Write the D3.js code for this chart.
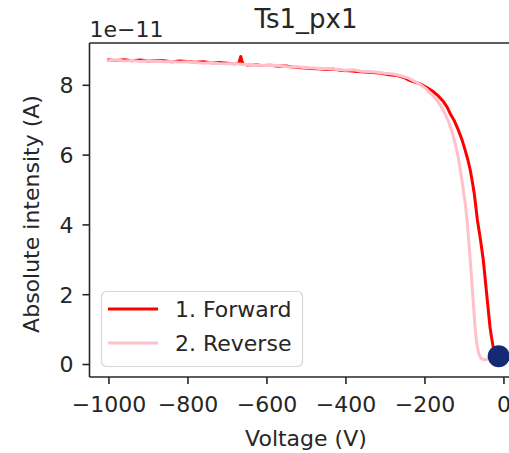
<!DOCTYPE html>
<html>
<head>
<meta charset="utf-8">
<script src="https://cdn.jsdelivr.net/npm/d3@7"></script>
<style>
  html, body { margin: 0; padding: 0; background: #fff; }
  svg { display: block; }
  text { font-family: "DejaVu Sans", sans-serif; fill: #262626; }
</style>
</head>
<body>
<svg id="chart" width="509" height="453"></svg>
<script>
// ---- data (current in units of 1e-11 A) ----
const title = "Ts1_px1";
const xLabel = "Voltage (V)";
const yLabel = "Absolute intensity (A)";
const yOffsetLabel = "1e\u221211";
const seriesNames = ["1. Forward", "2. Reverse"];
const seriesColors = ["red", "pink"];
const xTicks = [-1000, -800, -600, -400, -200, 0];
const yTicks = [0, 2, 4, 6, 8];

const forwardV = [-1000,-980,-960,-940,-920,-900,-880,-860,-840,-820,-800,-780,-760,-740,-720,-700,-680,-670,-665,-660,-650,-630,-610,-590,-570,-550,-530,-510,-490,-470,-450,-430,-410,-390,-370,-350,-330,-310,-290,-270,-250,-236,-225,-210,-195,-177,-165,-152,-143,-135,-124,-114,-105,-97,-90,-84,-79,-74,-70,-66,-58,-51,-45,-39,-34,-30,-26,-20,-14];
const forwardI = [8.71,8.70,8.72,8.69,8.71,8.68,8.70,8.69,8.66,8.68,8.67,8.65,8.66,8.63,8.64,8.62,8.60,8.62,8.81,8.60,8.57,8.58,8.55,8.56,8.53,8.54,8.50,8.49,8.47,8.46,8.44,8.45,8.41,8.40,8.38,8.37,8.35,8.33,8.29,8.27,8.20,8.12,8.08,8.02,7.93,7.80,7.68,7.52,7.37,7.18,6.96,6.70,6.43,6.13,5.85,5.56,5.24,4.89,4.52,4.13,3.55,2.98,2.30,1.62,1.06,0.75,0.49,0.30,0.22];

const reverseV = [-1000,-980,-960,-940,-920,-900,-880,-860,-840,-820,-800,-780,-760,-740,-720,-700,-680,-660,-640,-620,-600,-580,-560,-540,-520,-500,-480,-460,-440,-420,-400,-380,-360,-340,-320,-300,-280,-260,-240,-225,-210,-195,-180,-170,-160,-150,-139,-130,-122,-115,-109,-103,-97,-92,-88,-84,-80,-76,-72,-68,-63,-58,-52,-45,-38,-34];
const reverseI = [8.69,8.71,8.68,8.70,8.67,8.69,8.68,8.66,8.67,8.65,8.66,8.64,8.62,8.64,8.61,8.60,8.61,8.58,8.59,8.56,8.55,8.56,8.53,8.51,8.52,8.49,8.48,8.46,8.47,8.44,8.42,8.43,8.39,8.38,8.36,8.33,8.31,8.26,8.19,8.10,8.00,7.88,7.70,7.58,7.42,7.22,6.95,6.65,6.30,5.95,5.55,5.10,4.62,4.13,3.55,2.98,2.35,1.70,1.06,0.62,0.32,0.18,0.13,0.12,0.15,0.18];

const dotV = [-12];
const dotI = [0.22];

// ---- layout ----
const svg = d3.select("#chart");
const pLeft = 89.5, pRight = 522.4, pTop = 43, pBottom = 377;
const fs = 22;

const x = d3.scaleLinear().domain([-1048, 48]).range([pLeft, pRight]);
const y = d3.scaleLinear().domain([-0.372, 9.198]).range([pBottom, pTop]);

// lines
const line = d3.line().x(d => x(d[0])).y(d => y(d[1]));
const fwd = forwardV.map((v, i) => [v, forwardI[i]]);
const rev = reverseV.map((v, i) => [v, reverseI[i]]);

const plot = svg.append("g");
plot.append("path").datum(fwd).attr("d", line)
  .attr("fill", "none").attr("stroke", seriesColors[0]).attr("stroke-width", 3)
  .attr("stroke-linejoin", "round").attr("stroke-linecap", "square");
plot.append("path").datum(rev).attr("d", line)
  .attr("fill", "none").attr("stroke", seriesColors[1]).attr("stroke-width", 3)
  .attr("stroke-linejoin", "round").attr("stroke-linecap", "square");

plot.selectAll("circle.dot").data(dotV.map((v, i) => [v, dotI[i]])).enter()
  .append("circle").attr("class", "dot")
  .attr("cx", d => x(d[0])).attr("cy", d => y(d[1])).attr("r", 11)
  .attr("fill", "#142a72");

// axes
const xAxis = d3.axisBottom(x).tickValues(xTicks).tickSize(7).tickPadding(12)
  .tickFormat(d => d < 0 ? "\u2212" + Math.abs(d) : String(d));
const yAxis = d3.axisLeft(y).tickValues(yTicks).tickSize(7).tickPadding(9);

const gx = svg.append("g").attr("transform", `translate(0,${pBottom})`).call(xAxis);
const gy = svg.append("g").attr("transform", `translate(${pLeft},0)`).call(yAxis);
[gx, gy].forEach(g => {
  g.select(".domain").remove();
  g.selectAll(".tick line").attr("stroke", "#262626").attr("stroke-width", 1.6);
  g.selectAll(".tick text").attr("font-size", fs).attr("font-family", "DejaVu Sans").attr("fill", "#262626");
});
gx.selectAll(".tick text").attr("dy", "0.71em");
gy.selectAll(".tick text").attr("dy", "0.36em");

// spines
const spine = (x1, y1, x2, y2) => svg.append("line").attr("x1", x1).attr("y1", y1)
  .attr("x2", x2).attr("y2", y2).attr("stroke", "#262626").attr("stroke-width", 1.6);
spine(pLeft, pTop, pLeft, pBottom);
spine(pLeft, pBottom, pRight, pBottom);
spine(pLeft, pTop, pRight, pTop);
spine(pRight, pTop, pRight, pBottom);

// texts
svg.append("text").attr("x", (pLeft + pRight) / 2).attr("y", 28).attr("text-anchor", "middle")
  .attr("font-size", 26).text(title);
svg.append("text").attr("x", pLeft).attr("y", 37).attr("font-size", fs).text(yOffsetLabel);
svg.append("text").attr("x", (pLeft + pRight) / 2).attr("y", 446).attr("text-anchor", "middle")
  .attr("font-size", fs).text(xLabel);
svg.append("text").attr("transform", `translate(38.5,214) rotate(-90)`)
  .attr("text-anchor", "middle").attr("font-size", fs).text(yLabel);

// legend
const lg = svg.append("g");
lg.append("rect").attr("x", 101.5).attr("y", 291.5).attr("width", 201).attr("height", 75)
  .attr("rx", 5).attr("fill", "white").attr("fill-opacity", 0.8)
  .attr("stroke", "#d6d6d6").attr("stroke-width", 1.2);
seriesNames.forEach((name, i) => {
  const yy = 309 + i * 34;
  lg.append("line").attr("x1", 108).attr("x2", 158).attr("y1", yy).attr("y2", yy)
    .attr("stroke", seriesColors[i]).attr("stroke-width", 3);
  lg.append("text").attr("x", 175).attr("y", yy + 8).attr("font-size", fs).text(name);
});
</script>
</body>
</html>
